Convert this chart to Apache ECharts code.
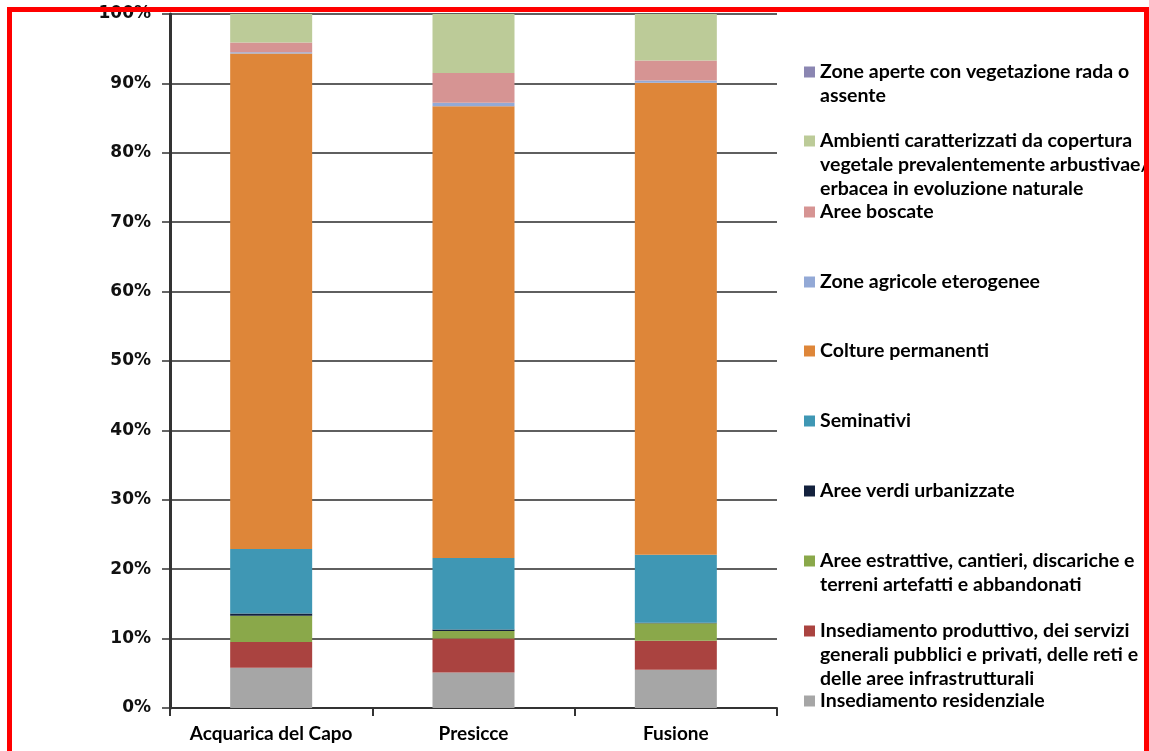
<!DOCTYPE html>
<html>
<head>
<meta charset="utf-8">
<script src="https://cdn.jsdelivr.net/npm/echarts@6/dist/echarts.min.js"></script>
<style>
  html, body { margin: 0; padding: 0; background: #fff; }
  #chart { width: 1149px; height: 751px; }
</style>
</head>
<body>
<div id="chart"></div>
<script>
// ---- Data (percent of territory) ----
const categories = ['Acquarica del Capo', 'Presicce', 'Fusione'];

const yTicks = [0, 10, 20, 30, 40, 50, 60, 70, 80, 90, 100];

// stacking order: bottom -> top
const seriesNames = [
  'Insediamento residenziale',
  'Insediamento produttivo, dei servizi\ngenerali pubblici e privati, delle reti e\ndelle aree infrastrutturali',
  'Aree estrattive, cantieri, discariche e\nterreni artefatti e abbandonati',
  'Aree verdi urbanizzate',
  'Seminativi',
  'Colture permanenti',
  'Zone agricole eterogenee',
  'Aree boscate',
  'Ambienti caratterizzati da copertura\nvegetale prevalentemente arbustivae/\nerbacea in evoluzione naturale',
  'Zone aperte con vegetazione rada o\nassente'
];

const insediamentoResidenziale = [5.8, 5.1, 5.5];
const insediamentoProduttivo   = [3.7, 4.9, 4.2];
const areeEstrattive           = [3.8, 1.1, 2.5];
const areeVerdiUrbanizzate     = [0.3, 0.2, 0.1];
const seminativi               = [9.3, 10.3, 9.8];
const colturePermanenti        = [71.4, 65.1, 68.0];
const zoneAgricoleEterogenee   = [0.2, 0.5, 0.3];
const areeBoscate              = [1.4, 4.3, 2.9];
const ambientiArbustivi        = [4.1, 8.5, 6.7];
const zoneAperte               = [0, 0, 0];

const seriesValues = [
  insediamentoResidenziale, insediamentoProduttivo, areeEstrattive,
  areeVerdiUrbanizzate, seminativi, colturePermanenti,
  zoneAgricoleEterogenee, areeBoscate, ambientiArbustivi, zoneAperte
];

const seriesColors = [
  '#a6a6a6', '#aa4340', '#8aa84a', '#13213d', '#3f97b4',
  '#de8639', '#93a9d6', '#d69493', '#bccb98', '#8b86b2'
];

// ---- Build option ----
const LH = 24;
// first-line centre of each legend entry, from top (legend order = reversed stack)
const legendCenters = [72, 141, 212, 282, 351, 421, 491, 561, 631, 701];
const legendOrder = seriesNames.slice().reverse();

const legends = legendOrder.map((name, i) => {
  const n = name.split('\n').length;
  const H = (2 * n - 1) * LH;
  return {
    data: [name],
    orient: 'vertical',
    left: 804,
    top: legendCenters[i] - H / 2,
    padding: 0,
    itemWidth: 11,
    itemHeight: 11,
    icon: 'rect',
    // blank lines on top so the first real line sits beside the marker
    formatter: (nm) => '\n'.repeat(nm.split('\n').length - 1) + nm,
    textStyle: {
      fontFamily: 'Lato',
      fontWeight: 'bold',
      fontSize: 19.5,
      lineHeight: LH,
      color: '#000'
    }
  };
});

const series = seriesNames.map((name, i) => ({
  name: name,
  type: 'bar',
  stack: 'total',
  barWidth: 82,
  itemStyle: { color: seriesColors[i] },
  emphasis: { disabled: true },
  data: seriesValues[i]
}));

const option = {
  backgroundColor: '#ffffff',
  animation: false,
  legend: legends,
  grid: { left: 170, right: 372, top: 14, bottom: 43, containLabel: false },
  xAxis: {
    type: 'category',
    data: categories,
    axisLine: { lineStyle: { color: '#333', width: 2 } },
    axisTick: { show: true, length: 8, lineStyle: { color: '#333', width: 2 } },
    axisLabel: {
      interval: 0,
      margin: 16,
      fontFamily: 'Lato',
      fontWeight: 'bold',
      fontSize: 19,
      color: '#000'
    }
  },
  yAxis: {
    type: 'value',
    min: yTicks[0],
    max: yTicks[yTicks.length - 1],
    interval: 10,
    axisLine: { show: true, lineStyle: { color: '#333', width: 3 } },
    axisTick: { show: true, length: 8, lineStyle: { color: '#333', width: 1.5 } },
    axisLabel: {
      margin: 19,
      formatter: '{value}%',
      fontFamily: 'DejaVu Sans',
      fontWeight: 'bold',
      fontSize: 17,
      color: '#111'
    },
    splitLine: { show: true, lineStyle: { color: '#2a2a2a', width: 1.5 } }
  },
  graphic: [
    {
      type: 'rect',
      z: 100,
      silent: true,
      shape: { x: 9.5, y: 9.5, width: 1137, height: 820 },
      style: { fill: 'none', stroke: '#ff0000', lineWidth: 5 }
    }
  ],
  series: series
};

const chart = echarts.init(document.getElementById('chart'), null, { renderer: 'canvas' });
chart.setOption(option);
</script>
</body>
</html>
